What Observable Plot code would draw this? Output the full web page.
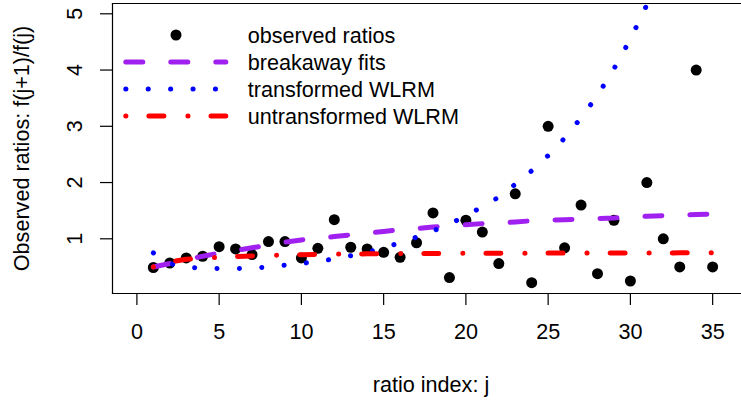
<!DOCTYPE html>
<html><head><meta charset="utf-8">
<script src="https://cdn.jsdelivr.net/npm/d3@7"></script>
<script src="https://cdn.jsdelivr.net/npm/@observablehq/plot@0.6"></script>
<style>
body{margin:0;background:#fff}
#wrap{position:relative;width:741px;height:404px;overflow:hidden;background:#fff}
#wrap svg{display:block}
#legend{position:absolute;left:0;top:0}
</style>
</head><body><div id="wrap"></div>
<script>
// ---- data ----
const ratioIndex = d3.range(1, 36);
const observed = [0.49,0.57,0.66,0.69,0.86,0.82,0.72,0.95,0.95,0.66,0.83,1.34,0.85,0.82,0.76,0.67,0.93,1.46,0.31,1.33,1.12,0.56,1.80,0.22,3.00,0.84,1.60,0.38,1.33,0.25,2.00,1.00,0.50,4.00,0.50];
const breakaway = [0.50,0.56,0.63,0.69,0.745,0.79,0.84,0.89,0.94,0.98,1.01,1.04,1.07,1.10,1.13,1.16,1.18,1.21,1.23,1.25,1.27,1.28,1.30,1.32,1.33,1.34,1.35,1.36,1.37,1.39,1.40,1.41,1.42,1.43,1.44];
const transformed = [0.75,0.56,0.50,0.475,0.47,0.47,0.48,0.50,0.53,0.56,0.60,0.64,0.70,0.76,0.84,0.93,1.03,1.14,1.26,1.41,1.57,1.74,1.97,2.21,2.48,2.79,3.15,3.55,4.02,4.55,5.16,5.85,6.6,7.5,8.5];
const untransformed = [0.50,0.59,0.635,0.655,0.672,0.685,0.695,0.705,0.712,0.718,0.723,0.727,0.73,0.733,0.735,0.737,0.739,0.74,0.741,0.742,0.743,0.744,0.745,0.745,0.746,0.746,0.747,0.747,0.748,0.748,0.749,0.749,0.75,0.75,0.75];
const xTicks = [0,5,10,15,20,25,30,35];
const yTicks = [1,2,3,4,5];
const legendLabels = ["observed ratios","breakaway fits","transformed WLRM","untransformed WLRM"];
const xLabel = "ratio index: j";
const yLabel = "Observed ratios: f(j+1)/f(j)";

const FONT = "'Liberation Sans', Arial, Helvetica, sans-serif";
const FS = 21.6;
const PURPLE = "#A020F0", BLUE = "#0000FF", RED = "#FF0000";
const DASH_PURPLE = "17,28", DASH_BLUE = "0.1,22.3", DASH_RED = "0.1,23,15,24";

const rows = ratioIndex.map((j, i) => ({
  j, observed: observed[i], breakaway: breakaway[i],
  transformed: transformed[i], untransformed: untransformed[i]
}));

const lineStyle = {strokeWidth: 5, strokeLinecap: "round", strokeLinejoin: "round", clip: true};

const chart = Plot.plot({
  width: 741, height: 404,
  marginLeft: 112, marginRight: 0, marginTop: 3, marginBottom: 111,
  style: {fontFamily: FONT, fontSize: FS + "px", color: "black", background: "white"},
  x: {domain: [-1.483, 36.754]},
  y: {domain: [0.0276, 5.183]},
  marks: [
    Plot.dot(rows, {x: "j", y: "observed", r: 5.5, fill: "black", stroke: "none"}),
    Plot.line(rows, {x: "j", y: "breakaway", stroke: PURPLE, strokeDasharray: DASH_PURPLE, ...lineStyle}),
    Plot.line(rows, {x: "j", y: "transformed", stroke: BLUE, strokeDasharray: DASH_BLUE, ...lineStyle}),
    Plot.line(rows, {x: "j", y: "untransformed", stroke: RED, strokeDasharray: DASH_RED, ...lineStyle}),
    Plot.frame({anchor: "top", stroke: "black", strokeWidth: 1.2}),
    Plot.frame({anchor: "left", stroke: "black", strokeWidth: 1.2}),
    Plot.frame({anchor: "bottom", stroke: "black", strokeWidth: 1.2}),
    Plot.axisX({ticks: xTicks, tickSize: 12, tickPadding: 17.7, label: null, fontSize: FS, strokeWidth: 1.2}),
    Plot.axisY({ticks: yTicks, tickSize: 12, tickFormat: () => "", label: null, strokeWidth: 1.2}),
    Plot.text(yTicks, {y: d => d, text: d => String(d), frameAnchor: "left", dx: -37, rotate: -90,
      textAnchor: "middle", lineAnchor: "middle", fontSize: FS, fill: "black"}),
    Plot.text([yLabel], {text: d => d, frameAnchor: "left", dx: -90, rotate: -90,
      textAnchor: "middle", lineAnchor: "middle", fontSize: FS, fill: "black"}),
    Plot.text([xLabel], {text: d => d, frameAnchor: "bottom", dy: 92, dx: 4,
      textAnchor: "middle", lineAnchor: "middle", fontSize: FS, fill: "black"})
  ]
});
const wrap = document.getElementById("wrap");
wrap.appendChild(chart);

// ---- legend (top-left, no box) ----
const lg = d3.create("svg").attr("id", "legend").attr("width", 741).attr("height", 404)
  .style("font-family", FONT).style("font-size", FS + "px");
const rowsY = [35, 62, 89, 116];
const x0 = 125.8, x1 = 225.8;
lg.append("circle").attr("cx", 176).attr("cy", rowsY[0]).attr("r", 5.5).attr("fill", "black");
[[PURPLE, DASH_PURPLE], [BLUE, DASH_BLUE], [RED, DASH_RED]].forEach(([c, d], i) => {
  lg.append("line").attr("x1", x0).attr("x2", x1).attr("y1", rowsY[i + 1]).attr("y2", rowsY[i + 1])
    .attr("stroke", c).attr("stroke-width", 5).attr("stroke-linecap", "round").attr("stroke-dasharray", d);
});
legendLabels.forEach((t, i) => {
  lg.append("text").attr("x", 247.7).attr("y", rowsY[i]).attr("dy", "0.36em").attr("fill", "black").text(t);
});
wrap.appendChild(lg.node());
</script>
</body></html>
